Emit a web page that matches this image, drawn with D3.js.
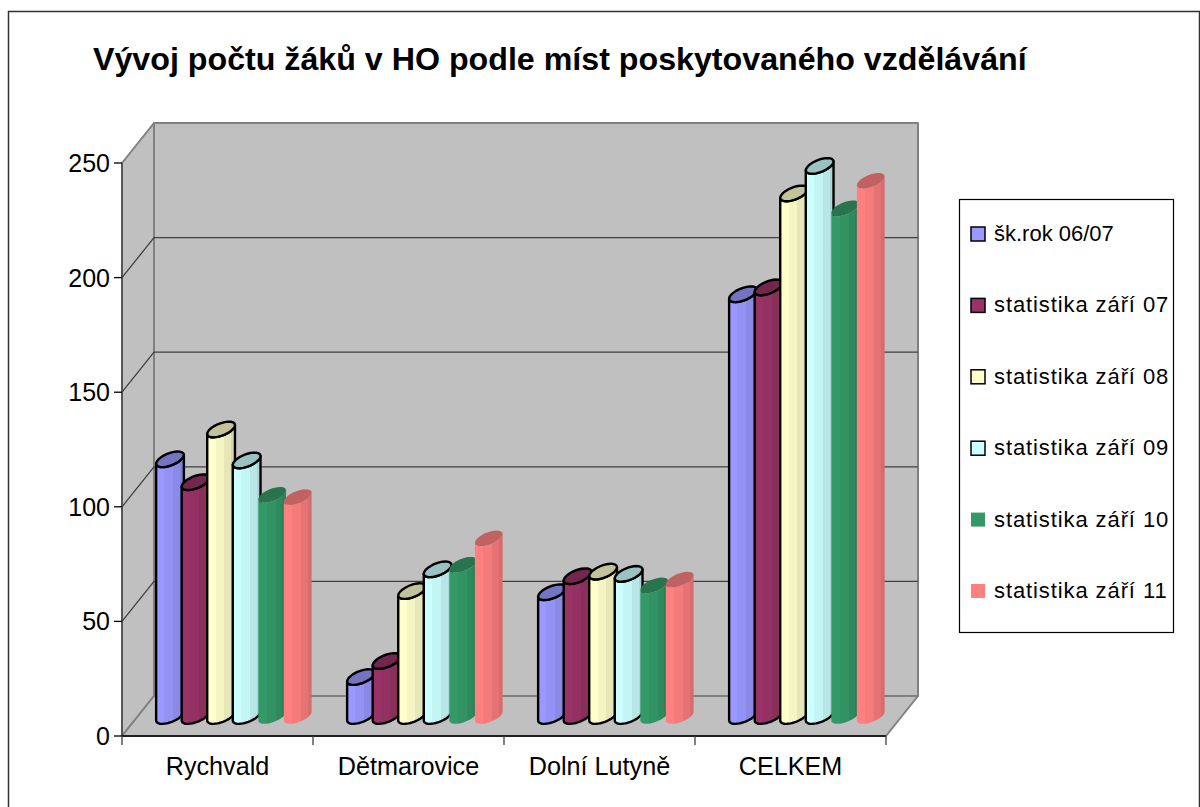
<!DOCTYPE html>
<html>
<head>
<meta charset="utf-8">
<script src="https://cdn.jsdelivr.net/npm/d3@7"></script>
<style>
  html, body { margin: 0; padding: 0; background: #fff; }
  svg { display: block; }
  text { font-family: "Liberation Sans", Arial, sans-serif; fill: #000; }
</style>
</head>
<body>
<svg id="chart"></svg>
<script>
const categories = ['Rychvald', 'Dětmarovice', 'Dolní Lutyně', 'CELKEM']
const seriesNames = ['šk.rok 06/07', 'statistika září 07', 'statistika září 08', 'statistika září 09', 'statistika září 10', 'statistika září 11']
const seriesColors = ['#9999ff', '#993366', '#ffffcc', '#ccffff', '#339966', '#ff8080']
const seriesOutlined = [true, true, true, true, false, false]

const skrok0607 = [112, 17, 54, 184]
const zari07 = [102, 24, 61, 187]
const zari08 = [125, 54.5, 63, 228]
const zari09 = [111.5, 64, 62, 240]
const zari10 = [96.5, 66, 57, 221.5]
const zari11 = [95.5, 77.5, 59.5, 233.5]
const seriesValues = [skrok0607, zari07, zari08, zari09, zari10, zari11]

const yTicks = [0, 50, 100, 150, 200, 250]

const global_width = 1200,
  global_height = 807;

// front plane of the plot, the back wall sits depthX/depthY behind it
const plotLeft = 122, plotRight = 886, plotTop = 163, plotBottom = 736
const depthX = 32, depthY = 40

const svg = d3.select('#chart')
  .attr('width', global_width)
  .attr('height', global_height)

// chart frame, only the top and left edges fall inside the picture
svg.append('path')
  .attr('d', `M8.5,807V11.5H1199.5V807`)
  .attr('fill', 'none')
  .attr('stroke', '#333')
  .attr('stroke-width', 1.5)

svg.append('text')
  .attr('x', 93)
  .attr('y', 70)
  .attr('font-size', '32.2px')
  .attr('font-weight', 'bold')
  .text('Vývoj počtu žáků v HO podle míst poskytovaného vzdělávání')

const xScale = d3.scaleBand().domain(categories).range([plotLeft, plotRight])
const yScale = d3.scaleLinear().domain([0, 250]).range([plotBottom, plotTop])

// walls
const walls = svg.append('g').attr('id', 'walls')
const wallStyle = sel => sel.attr('fill', '#c0c0c0').attr('stroke', '#808080').attr('stroke-width', 2).attr('stroke-linejoin', 'round')

walls.append('path').call(wallStyle)
  .attr('d', `M${plotLeft},${plotBottom}V${plotTop}L${plotLeft + depthX},${plotTop - depthY}V${plotBottom - depthY}Z`)
walls.append('path').call(wallStyle)
  .attr('d', `M${plotLeft},${plotBottom}L${plotLeft + depthX},${plotBottom - depthY}H${plotRight + depthX}L${plotRight},${plotBottom}Z`)
walls.append('rect').call(wallStyle)
  .attr('x', plotLeft + depthX)
  .attr('y', plotTop - depthY)
  .attr('width', plotRight - plotLeft)
  .attr('height', plotBottom - plotTop)

// gridlines along side wall and back wall
const grid = svg.append('g').attr('id', 'grid')
yTicks.slice(1, -1).forEach(t => {
  grid.append('path')
    .attr('d', `M${plotLeft},${yScale(t)}l${depthX},${-depthY}H${plotRight + depthX}`)
    .attr('fill', 'none')
    .attr('stroke', '#404040')
    .attr('stroke-width', 1.3)
})

// stepped shading across the round bars
const defs = svg.append('defs')
const shades = [[0, 1], [0.3, 0.96], [0.62, 0.9], [0.86, 0.84], [1, 0.84]]
seriesColors.forEach((c, i) => {
  const grad = defs.append('linearGradient').attr('id', 'bar-' + i)
  shades.forEach((s, k) => {
    const col = d3.rgb(c)
    const shade = d3.rgb(col.r * s[1], col.g * s[1], col.b * s[1]).formatHex()
    grad.append('stop').attr('offset', s[0]).attr('stop-color', shade)
    if (k < shades.length - 1) {
      grad.append('stop').attr('offset', shades[k + 1][0]).attr('stop-color', shade)
    }
  })
})

// the slanted oval of one bar end, a and b are its two half axes
const barStep = 25.55, barStart = 34
const a = [13.4, -2.6], b = [3.6, -7.4]
const tRight = Math.atan2(b[0], a[0])
const ovalPoint = (cx, cy, t) => [
  cx + a[0] * Math.cos(t) + b[0] * Math.sin(t),
  cy + a[1] * Math.cos(t) + b[1] * Math.sin(t)
]
const ovalArc = (cx, cy, t0, t1) => d3.range(0, 25).map(k => ovalPoint(cx, cy, t0 + (t1 - t0) * k / 24))
const line = d3.line().curve(d3.curveLinear)

const bars = svg.append('g').attr('id', 'bars')
categories.forEach((cat, c) => {
  seriesValues.forEach((values, s) => {
    const left = xScale(cat) + barStart + s * barStep
    const cx = left + 14
    const cyBase = yScale(0) - depthY / 2
    const cyTop = yScale(values[c]) - depthY / 2
    const stroke = seriesOutlined[s] ? '#000' : 'none'

    const front = [
      ...ovalArc(cx, cyTop, tRight, tRight - Math.PI),
      ...ovalArc(cx, cyBase, tRight - Math.PI, tRight)
    ]
    const g = bars.append('g')
    g.append('path')
      .attr('d', line(front) + 'Z')
      .attr('fill', `url(#bar-${s})`)
      .attr('stroke', stroke)
      .attr('stroke-width', 2.4)
      .attr('stroke-linejoin', 'round')
    const topCol = d3.rgb(seriesColors[s])
    g.append('path')
      .attr('d', line(ovalArc(cx, cyTop, 0, Math.PI * 2)) + 'Z')
      .attr('fill', d3.rgb(topCol.r * 0.76, topCol.g * 0.76, topCol.b * 0.76).formatHex())
      .attr('stroke', stroke)
      .attr('stroke-width', 2.4)
  })
})

// axes
const axisY = svg.append('g').attr('id', 'y-axis')
axisY.append('line')
  .attr('x1', plotLeft).attr('x2', plotLeft)
  .attr('y1', plotTop).attr('y2', plotBottom)
  .attr('stroke', '#404040').attr('stroke-width', 1.3)
yTicks.forEach(t => {
  axisY.append('line')
    .attr('x1', plotLeft - 8).attr('x2', plotLeft)
    .attr('y1', yScale(t)).attr('y2', yScale(t))
    .attr('stroke', '#000').attr('stroke-width', 1.3)
  axisY.append('text')
    .attr('x', plotLeft - 12)
    .attr('y', yScale(t) + 9)
    .attr('text-anchor', 'end')
    .attr('font-size', '25px')
    .text(t)
})

const axisX = svg.append('g').attr('id', 'x-axis')
axisX.append('line')
  .attr('x1', plotLeft).attr('x2', plotRight)
  .attr('y1', plotBottom).attr('y2', plotBottom)
  .attr('stroke', '#000').attr('stroke-width', 1.3)
xScale.domain().concat([null]).forEach(cat => {
  const x = cat === null ? plotRight : xScale(cat)
  axisX.append('line')
    .attr('x1', x).attr('x2', x)
    .attr('y1', plotBottom).attr('y2', plotBottom + 9)
    .attr('stroke', '#404040').attr('stroke-width', 1.3)
})
categories.forEach(cat => {
  axisX.append('text')
    .attr('x', xScale(cat) + xScale.bandwidth() / 2)
    .attr('y', 775)
    .attr('text-anchor', 'middle')
    .attr('font-size', '25.2px')
    .text(cat)
})

// legend
const legend = svg.append('g').attr('id', 'legend')
legend.append('rect')
  .attr('x', 959.5).attr('y', 199.5)
  .attr('width', 214).attr('height', 433)
  .attr('fill', '#fff').attr('stroke', '#000').attr('stroke-width', 1.2)
const legendY = d3.scalePoint().domain(seriesNames).range([234, 591])
seriesNames.forEach((name, i) => {
  legend.append('rect')
    .attr('x', 971).attr('y', legendY(name) - 7)
    .attr('width', 14).attr('height', 14)
    .attr('fill', seriesColors[i])
    .attr('stroke', seriesOutlined[i] ? '#000' : 'none')
    .attr('stroke-width', 1.5)
  legend.append('text')
    .attr('x', 994)
    .attr('y', legendY(name) + 7)
    .attr('font-size', '22px')
    .attr('letter-spacing', name.startsWith('statistika') ? '0.9px' : null)
    .text(name)
})
</script>
</body>
</html>
